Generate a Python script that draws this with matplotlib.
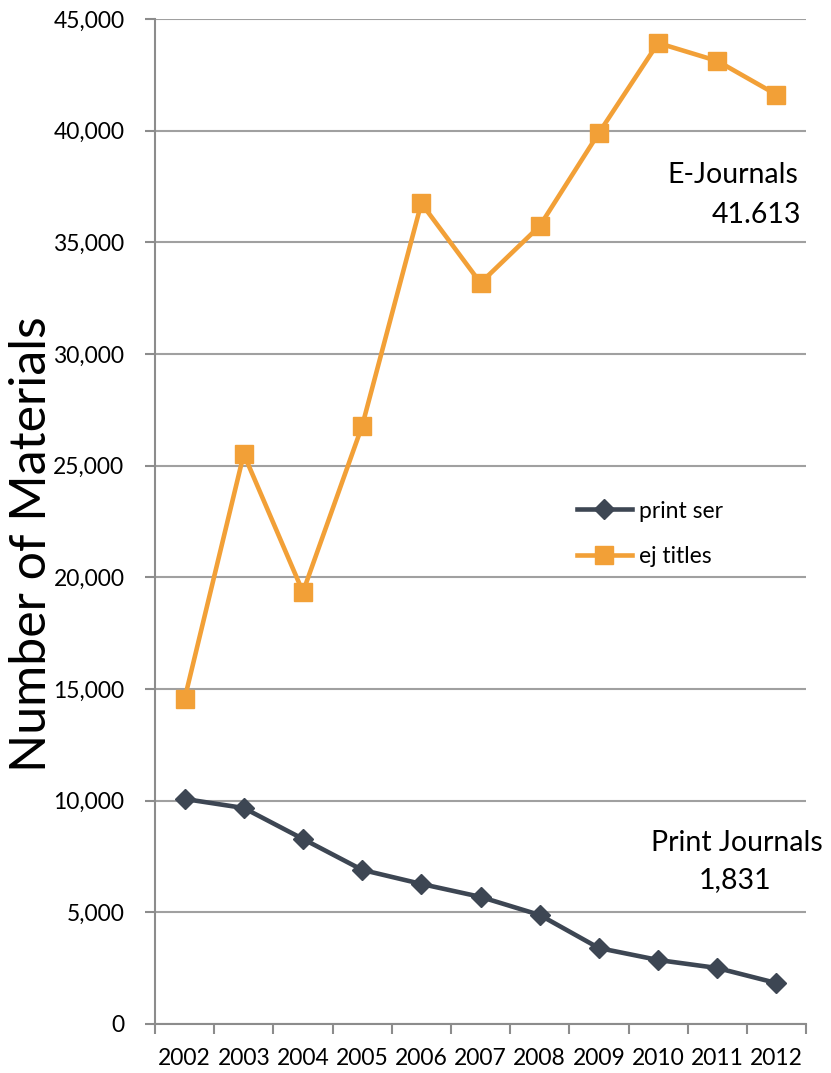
import matplotlib.pyplot as plt
from matplotlib.ticker import FuncFormatter

plt.rcParams['font.family'] = ['Lato', 'DejaVu Sans']

years = ["2002", "2003", "2004", "2005", "2006", "2007", "2008", "2009", "2010", "2011", "2012"]
print_ser = [10075, 9670, 8285, 6900, 6270, 5690, 4880, 3400, 2865, 2505, 1831]
ej_titles = [14550, 25520, 19340, 26780, 36750, 33180, 35730, 39900, 43925, 43120, 41613]

fig = plt.figure(figsize=(8.31, 10.73), dpi=100)
ax = fig.add_axes([0.1865, 0.0457, 0.7835, 0.9366])

x = list(range(len(years)))
ax.plot(x, print_ser, color="#3D4653", linewidth=3.3, marker="D", markersize=10,
        label="print ser")
ax.plot(x, ej_titles, color="#F2A037", linewidth=3.3, marker="s", markersize=12.5,
        label="ej titles")

ax.set_xlim(-0.5, len(years) - 0.5)
ax.set_ylim(0, 45000)
ax.set_yticks(range(0, 45001, 5000))
ax.yaxis.set_major_formatter(FuncFormatter(lambda v, p: f"{int(v):,}"))
ax.set_xticks(x)
ax.set_xticklabels(years)
ax.set_xticks([i - 0.5 for i in range(len(years) + 1)], minor=True)
ax.tick_params(axis="x", which="major", length=0, pad=17, labelsize=16.5)
ax.tick_params(axis="x", which="minor", length=7, width=1.5, color="#8C8C8C")
ax.tick_params(axis="y", length=7, width=1.5, color="#8C8C8C", labelsize=16.5, pad=15)

ax.grid(axis="y", color="#A0A0A0", linewidth=1.5)
ax.set_axisbelow(True)
for s in ["top", "right"]:
    ax.spines[s].set_visible(False)
for s in ["left", "bottom"]:
    ax.spines[s].set_color("#8C8C8C")
    ax.spines[s].set_linewidth(1.5)

ax.set_ylabel("Number of Materials", fontsize=36)
ax.yaxis.set_label_coords(-0.153, 0.477)

ax.legend(loc="center left", bbox_to_anchor=(0.616, 0.488), frameon=False,
          fontsize=16.5, handlelength=2.4, handletextpad=0.3, labelspacing=1.05)

ax.text(9.27, 38015, "E-Journals", fontsize=20.5, ha="center", va="center")
ax.text(9.67, 36224, "41.613", fontsize=20.5, ha="center", va="center")
ax.text(9.33, 8104, "Print Journals", fontsize=20.5, ha="center", va="center")
ax.text(9.30, 6448, "1,831", fontsize=20.5, ha="center", va="center")

fig.savefig("out.png", dpi=100)
